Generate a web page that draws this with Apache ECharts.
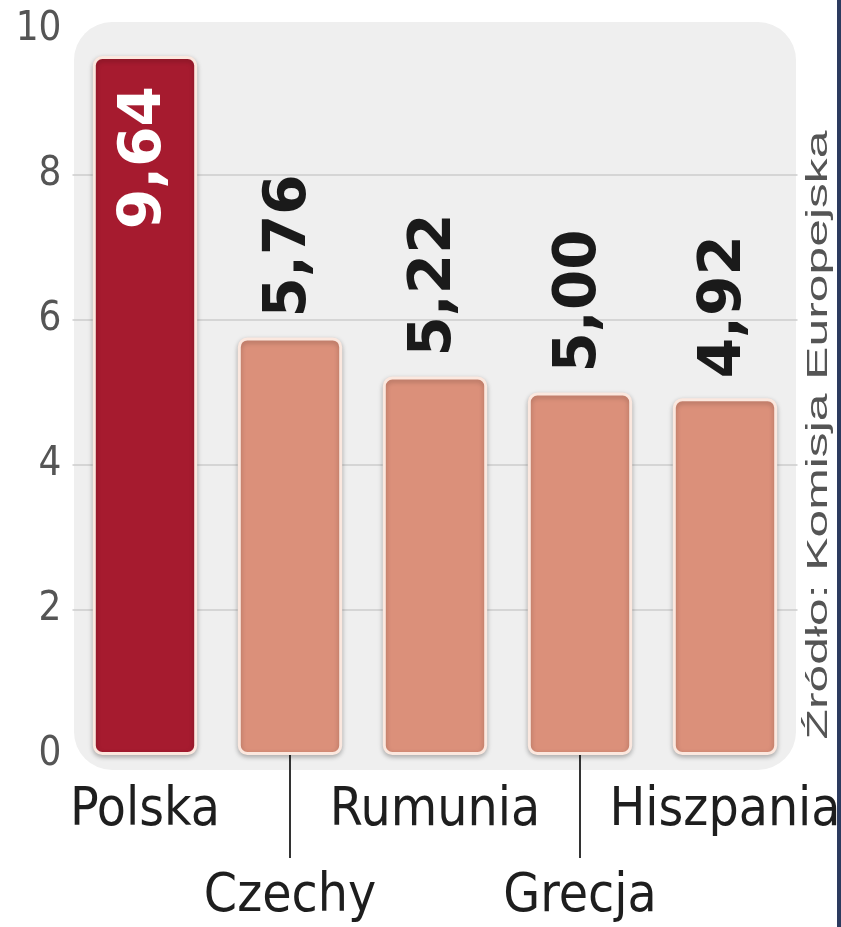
<!DOCTYPE html>
<html>
<head>
<meta charset="utf-8">
<title>Polska - wykres</title>
<script src="https://cdn.jsdelivr.net/npm/echarts/dist/echarts.min.js"></script>
<style>
	html, body { margin: 0; padding: 0; background: #fff; }
	#wykres { width: 841px; height: 927px; }
</style>
</head>
<body>
<div id="wykres"></div>
<script>
// dane
var kraje = ['Polska', 'Czechy', 'Rumunia', 'Grecja', 'Hiszpania'];
var wartosci = [9.64, 5.76, 5.22, 5.00, 4.92];
var osY = [0, 2, 4, 6, 8, 10];
var zrodlo = 'Źródło: Komisja Europejska';

var kolorPolska = '#a61b2f',
	kolorReszta = '#db907a';

var wykres = echarts.init(document.getElementById('wykres'));

var dane = [];
for(var i = 0; i < wartosci.length; i++) {
	var item = {
		value: wartosci[i],
		itemStyle: { color: i === 0 ? kolorPolska : kolorReszta }
	};
	if(i === 0) {
		// etykieta w srodku slupka
		item.label = {
			position: 'insideTop',
			align: 'right',
			distance: 30,
			color: '#fff'
		};
	}
	dane.push(item);
}

var opcje = {
	animation: false,
	grid: {
		left: 72.5,
		right: 43.5,
		top: 30,
		bottom: 172,
		outerBoundsMode: 'none',
		containLabel: false
	},
	graphic: [{
		// szare tlo pod wykresem
		type: 'rect',
		z: -10,
		shape: { x: 74, y: 22, width: 722, height: 748, r: 38 },
		style: { fill: '#efefef' }
	}, {
		type: 'rect',
		z: 10,
		shape: { x: 837, y: 0, width: 4, height: 927 },
		style: { fill: '#2c3b5f' }
	}, {
		type: 'text',
		z: 10,
		x: 819,
		y: 435,
		rotation: Math.PI / 2,
		scaleX: 1.66,
		style: {
			text: zrodlo,
			font: '30px "Liberation Sans", Arial, sans-serif',
			fill: '#555',
			align: 'center',
			verticalAlign: 'middle'
		}
	}],
	xAxis: {
		type: 'category',
		data: kraje,
		axisLine: { show: false },
		axisTick: {
			show: true,
			alignWithLabel: true,
			interval: function(idx) { return idx % 2 === 1; },
			length: 103,
			lineStyle: { color: '#333', width: 2 }
		},
		axisLabel: {
			interval: 0,
			margin: 13,
			fontFamily: '"DejaVu Sans Condensed", sans-serif',
			fontSize: 53,
			lineHeight: 86,
			color: '#1e1e1e',
			formatter: function(v, idx) {
				return idx % 2 === 1 ? '\n' + v : v;
			}
		}
	},
	yAxis: {
		type: 'value',
		min: osY[0],
		max: osY[osY.length - 1],
		interval: 2,
		axisLine: { show: false },
		axisTick: { show: false },
		axisLabel: {
			margin: 11,
			fontFamily: '"DejaVu Sans Condensed", sans-serif',
			fontSize: 40,
			color: '#555'
		},
		splitLine: {
			lineStyle: {
				color: ['transparent', '#cdcdcd', '#cdcdcd', '#cdcdcd', '#cdcdcd', 'transparent'],
				width: 1.5
			}
		}
	},
	series: [{
		type: 'bar',
		data: dane,
		barCategoryGap: '28%',
		itemStyle: {
			borderColor: '#fbe8df',
			borderWidth: 3,
			borderRadius: 8,
			shadowBlur: 5,
			shadowColor: 'rgba(0, 0, 0, 0.25)',
			shadowOffsetY: 2
		},
		label: {
			show: true,
			position: 'top',
			rotate: 90,
			align: 'left',
			verticalAlign: 'middle',
			distance: 20,
			fontFamily: '"DejaVu Sans", sans-serif',
			fontWeight: 'bold',
			fontSize: 58,
			color: '#1a1a1a',
			formatter: function(p) {
				return p.value.toFixed(2).replace('.', ',');
			}
		}
	}]
};

wykres.setOption(opcje);
</script>
</body>
</html>
